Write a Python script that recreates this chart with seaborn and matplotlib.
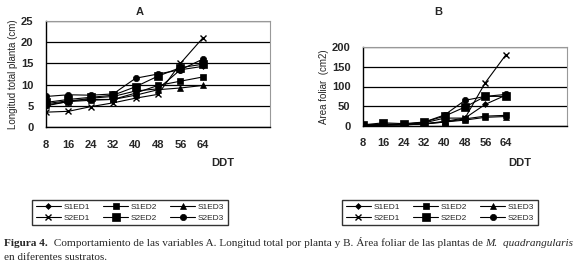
import numpy as np
import pandas as pd
import matplotlib
matplotlib.use('Agg')
import matplotlib.pyplot as plt
import seaborn as sns

# DDT (dias despues del trasplante)
ddt = [8, 16, 24, 32, 40, 48, 56, 64]
series = ['S1ED1', 'S1ED2', 'S1ED3', 'S2ED1', 'S2ED2', 'S2ED3']

# A. Longitud total planta (cm)
long_s1ed1 = [5.0, 6.0, 6.8, 7.2, 8.5, 9.0, 13.5, 14.3]
long_s1ed2 = [5.5, 6.2, 6.5, 6.5, 8.0, 9.8, 10.8, 11.8]
long_s1ed3 = [5.2, 6.0, 6.3, 6.5, 7.5, 8.8, 9.2, 9.8]
long_s2ed1 = [3.5, 3.7, 4.8, 5.7, 6.8, 7.7, 15.0, 21.0]
long_s2ed2 = [5.8, 6.5, 7.0, 7.5, 9.5, 12.0, 14.0, 14.8]
long_s2ed3 = [7.2, 7.6, 7.5, 7.8, 11.5, 12.5, 13.5, 16.0]

# B. Area foliar (cm2)
area_s1ed1 = [2, 4, 4, 8, 20, 20, 55, 78]
area_s1ed2 = [2, 3, 3, 6, 10, 18, 25, 27]
area_s1ed3 = [1, 2, 3, 5, 10, 15, 22, 24]
area_s2ed1 = [1, 2, 3, 5, 12, 20, 110, 180]
area_s2ed2 = [3, 8, 6, 10, 25, 48, 75, 75]
area_s2ed3 = [2, 5, 4, 10, 28, 65, 75, 80]

long_vals = [long_s1ed1, long_s1ed2, long_s1ed3, long_s2ed1, long_s2ed2, long_s2ed3]
area_vals = [area_s1ed1, area_s1ed2, area_s1ed3, area_s2ed1, area_s2ed2, area_s2ed3]

rows = []
for s, lv, av in zip(series, long_vals, area_vals):
    for d, l, a in zip(ddt, lv, av):
        rows.append({'DDT': d, 'serie': s, 'long': l, 'area': a})
df = pd.DataFrame(rows)

marker_style = {
    'S1ED1': ('D', 3),
    'S1ED2': ('s', 4),
    'S1ED3': ('^', 4),
    'S2ED1': ('x', 5),
    'S2ED2': ('s', 6),
    'S2ED3': ('o', 4.5),
}

sns.set_style('white')
plt.rcParams['font.family'] = ['Liberation Sans', 'DejaVu Sans']

W, H = 580, 269
fig = plt.figure(figsize=(W / 100, H / 100), dpi=100)

def px_axes(x0, y0, x1, y1):
    return fig.add_axes([x0 / W, 1 - y1 / H, (x1 - x0) / W, (y1 - y0) / H])

axA = px_axes(46, 21, 270, 127)
axB = px_axes(363, 47, 567, 126)

for ax, ycol, ymax, ystep, ylab in [(axA, 'long', 25, 5, 'Longitud total planta (cm)'),
                                    (axB, 'area', 200, 50, 'Area foliar  (cm2)')]:
    for s in series:
        m, ms = marker_style[s]
        sns.lineplot(data=df[df['serie'] == s], x='DDT', y=ycol, ax=ax,
                     color='black', marker=m, markersize=ms, linewidth=0.8,
                     markeredgecolor='black', markeredgewidth=1 if m == 'x' else 0.5,
                     label=s, legend=False)
    ax.set_xlim(8, 88)
    ax.set_ylim(0, ymax)
    ax.set_xticks(np.arange(8, 89, 8))
    ax.set_xticklabels([str(t) if t <= 64 else '' for t in np.arange(8, 89, 8)])
    ax.set_yticks(np.arange(0, ymax + 1, ystep))
    ax.yaxis.grid(True, color='black', linewidth=0.9)
    ax.set_axisbelow(True)
    for sp in ['top', 'right']:
        ax.spines[sp].set_color('#999999')
        ax.spines[sp].set_linewidth(0.8)
    for sp in ['left', 'bottom']:
        ax.spines[sp].set_color('black')
        ax.spines[sp].set_linewidth(1)
    ax.tick_params(axis='both', direction='out', length=3, width=0.8, color='black',
                   labelsize=8, pad=6)
    for lab in ax.get_xticklabels() + ax.get_yticklabels():
        lab.set_fontweight('bold')
    ax.set_xlabel('')
    ax.set_ylabel(ylab, fontsize=7)

axA.yaxis.labelpad = 2
axB.yaxis.labelpad = 2

fig.text(140 / W, 1 - 12 / H, 'A', ha='center', va='center', fontsize=8, fontweight='bold')
fig.text(438 / W, 1 - 12 / H, 'B', ha='center', va='center', fontsize=8, fontweight='bold')
fig.text(223 / W, 1 - 163 / H, 'DDT', ha='center', va='center', fontsize=8, fontweight='bold')
fig.text(520 / W, 1 - 163 / H, 'DDT', ha='center', va='center', fontsize=8, fontweight='bold')

# leyendas (orden por columnas para que queden S1 arriba, S2 abajo)
order = ['S1ED1', 'S2ED1', 'S1ED2', 'S2ED2', 'S1ED3', 'S2ED3']
for ax, cx in [(axA, 130), (axB, 440)]:
    hdict = {l.get_label(): l for l in ax.get_lines()}
    handles = [hdict[k] for k in order]
    leg = fig.legend(handles, order, loc='center', bbox_to_anchor=(cx / W, 1 - 212.5 / H),
                     ncol=3, fontsize=6, frameon=True, fancybox=False, edgecolor='black',
                     handlelength=3, columnspacing=1.6, labelspacing=0.3,
                     borderpad=0.4, handletextpad=0.3)
    leg.get_frame().set_linewidth(1)

# pie de figura
fig.canvas.draw()
r = fig.canvas.get_renderer()
serif = ['Liberation Serif', 'DejaVu Serif']
y1 = 1 - 243 / H
parts = [('Figura 4.', 'bold', 'normal'),
         ('  Comportamiento de las variables A. Longitud total por planta y B. Área foliar de las plantas de ', 'normal', 'normal'),
         ('M.  quadrangularis', 'normal', 'italic')]
x = 4 / W
for txt, wgt, sty in parts:
    t = fig.text(x, y1, txt, ha='left', va='center', fontsize=8.1, fontweight=wgt,
                 fontstyle=sty, family=serif)
    bb = t.get_window_extent(renderer=r)
    x += bb.width / W
fig.text(4 / W, 1 - 258 / H, 'en diferentes sustratos.', ha='left', va='center',
         fontsize=8.1, family=serif)

fig.savefig('out.png', dpi=100)
